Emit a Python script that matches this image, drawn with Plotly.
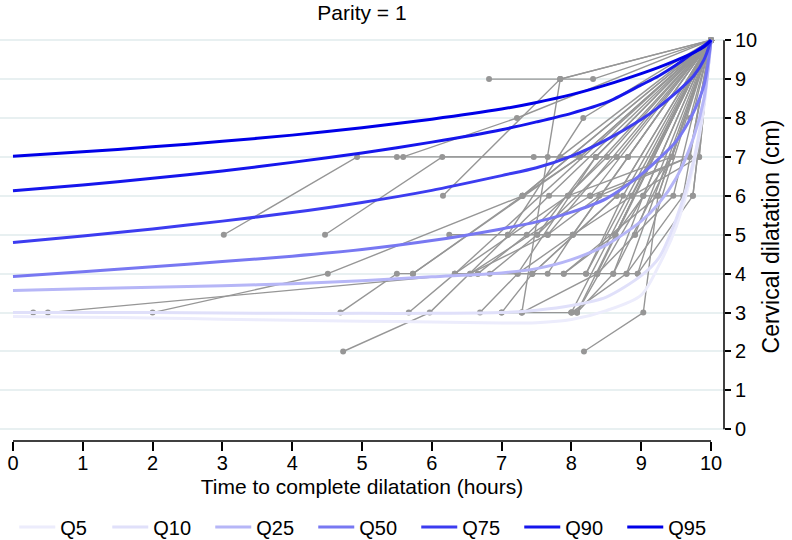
import plotly.graph_objects as go

# ---------------- data ----------------
quantile_names = ["Q5", "Q10", "Q25", "Q50", "Q75", "Q90", "Q95"]
quantile_colors = ["rgb(236,236,252)", "rgb(224,224,250)", "rgb(182,182,247)",
                   "rgb(120,120,242)", "rgb(60,60,240)", "rgb(22,22,236)", "rgb(0,0,232)"]

curve_hours = [0, 1, 2, 3, 4, 5, 6, 7, 7.5, 8, 8.5, 9, 9.25, 9.5, 9.75, 9.9, 10]
q5  = [2.90, 2.88, 2.86, 2.83, 2.80, 2.78, 2.76, 2.73, 2.74, 2.82, 3.05, 3.45, 4.20, 5.20, 6.80, 8.30, 10]
q10 = [3.00, 3.00, 3.00, 2.99, 2.98, 2.98, 2.98, 3.00, 3.06, 3.18, 3.40, 3.95, 4.40, 5.40, 6.90, 8.40, 10]
q25 = [3.57, 3.61, 3.65, 3.69, 3.74, 3.82, 3.92, 4.02, 4.13, 4.36, 4.74, 5.35, 5.80, 6.45, 7.50, 8.50, 10]
q50 = [3.93, 4.05, 4.18, 4.31, 4.45, 4.62, 4.85, 5.15, 5.33, 5.58, 5.93, 6.55, 6.95, 7.40, 8.15, 8.85, 10]
q75 = [4.80, 4.97, 5.15, 5.35, 5.57, 5.83, 6.14, 6.52, 6.72, 7.02, 7.44, 7.96, 8.28, 8.65, 9.08, 9.50, 10]
q90 = [6.13, 6.28, 6.45, 6.64, 6.86, 7.10, 7.38, 7.70, 7.90, 8.12, 8.40, 8.85, 9.08, 9.36, 9.68, 9.86, 10]
q95 = [7.02, 7.13, 7.26, 7.40, 7.56, 7.75, 7.97, 8.23, 8.40, 8.60, 8.85, 9.14, 9.30, 9.48, 9.68, 9.83, 10]
quantile_values = [q5, q10, q25, q50, q75, q90, q95]

# individual women: exam times (hours) and dilatation (cm)
patient_hours = [
    [6.82, 7.84, 8.31, 10], [7.29, 7.84, 10], [3.02, 4.93, 7.46, 8.81, 10],
    [4.47, 6.15, 7.66, 9.83, 10], [6.16, 7.84, 10], [5.50, 5.59, 7.22, 10],
    [0.29, 2.00, 4.51, 7.30, 10], [0.50, 6.55, 8.27, 10], [4.69, 5.50, 5.73, 8.12, 10],
    [4.73, 5.97, 7.68, 10], [6.25, 7.09, 8.17, 10], [5.67, 6.33, 7.95, 10],
    [6.69, 7.23, 8.35, 10], [7.00, 7.44, 8.65, 10], [8.00, 8.08, 8.60, 9.03, 10],
    [8.18, 9.03, 9.24, 10], [6.66, 7.36, 8.51, 10], [6.83, 7.51, 8.65, 10],
    [7.66, 8.02, 8.87, 10], [7.89, 8.63, 9.44, 10], [8.21, 8.74, 10],
    [8.37, 8.91, 9.46, 10], [8.79, 9.60, 10], [8.95, 9.74, 10],
    [7.66, 8.40, 9.69, 10], [9.70, 10], [7.84, 10], [8.08, 10],
    [7.00, 7.29, 8.00, 10], [6.33, 10], [7.23, 8.02, 10], [6.55, 7.66, 10],
    [5.73, 7.30, 10], [8.60, 9.44, 10], [7.51, 8.35, 10], [8.02, 8.81, 10],
    [8.87, 9.83, 10], [7.30, 8.12, 10], [8.91, 10], [8.63, 10],
    [6.33, 7.44, 8.37, 8.95, 10], [7.09, 7.66, 8.63, 10], [7.30, 8.27, 9.03, 9.74, 10],
    [7.29, 8.37, 10], [8.00, 8.79, 10], [8.08, 9.03, 10], [7.44, 8.65, 10],
    [7.89, 9.24, 10], [7.95, 9.44, 10], [8.27, 9.69, 10], [6.66, 8.21, 10],
]
patient_cm = [
    [9, 9, 9, 10], [3, 9, 10], [5, 7, 7, 7, 10],
    [5, 7, 7, 7, 10], [6, 9, 10], [7, 7, 8, 10],
    [3, 3, 4, 6, 10], [3, 4, 6, 10], [3, 4, 4, 7, 10],
    [2, 3, 6, 10], [5, 5, 8, 10], [3, 4, 6, 10],
    [3, 4, 7, 10], [3, 4, 6, 10], [3, 3, 4, 6, 10],
    [2, 3, 6, 10], [4, 5, 7, 10], [4, 5, 7, 10],
    [4, 5, 6, 10], [4, 5, 7, 10], [4, 6, 10],
    [4, 5, 6, 10], [4, 6, 10], [4, 6, 10],
    [5, 6, 7, 10], [8, 10], [7, 10], [3, 10],
    [3, 3, 3, 10], [4, 10], [4, 5, 10], [4, 5, 10],
    [4, 6, 10], [4, 7, 10], [5, 7, 10], [5, 7, 10],
    [6, 7, 10], [6, 7, 10], [5, 10], [5, 10],
    [4, 4, 4, 4, 10], [5, 5, 5, 10], [6, 6, 6, 6, 10],
    [3, 4, 10], [3, 4, 10], [3, 6, 10], [4, 6, 10],
    [4, 6, 10], [6, 7, 10], [6, 7, 10], [4, 4, 10],
]

x_ticks = list(range(0, 11))
y_ticks = list(range(0, 11))

FONT = "Liberation Sans, Arial, Helvetica, sans-serif"
GRAY = "rgb(150,150,150)"

fig = go.Figure()

for hrs, cm in zip(patient_hours, patient_cm):
    fig.add_trace(go.Scatter(
        x=hrs, y=cm, mode="lines+markers", showlegend=False, hoverinfo="skip",
        line=dict(color=GRAY, width=1.4),
        marker=dict(color=GRAY, size=6)))

for name, col, vals in zip(quantile_names, quantile_colors, quantile_values):
    fig.add_trace(go.Scatter(
        x=curve_hours, y=vals, mode="lines", name=name,
        legendwidth=42 if name == "Q5" else 52,
        line=dict(color=col, width=3, shape="spline", smoothing=0.8)))

fig.update_layout(
    width=792, height=540,
    margin=dict(l=0, r=68, t=32, b=99),
    paper_bgcolor="white", plot_bgcolor="white",
    font=dict(family=FONT, size=20, color="black"),
    title=dict(text="Parity = 1", x=0.5, xref="paper", xanchor="center",
               y=1 - 13 / 540, yref="container", yanchor="middle",
               font=dict(size=21)),
    showlegend=True,
    legend=dict(orientation="h", xref="container", yref="container",
                x=0.018, xanchor="left", y=(540 - 527) / 540, yanchor="middle",
                itemwidth=36, entrywidth=52, entrywidthmode="pixels",
                font=dict(size=20), bgcolor="rgba(0,0,0,0)"),
    xaxis=dict(range=[-0.186, 10.186], tickvals=x_ticks, ticks="outside",
               ticklen=9, tickwidth=1.5, tickcolor="black", ticklabelstandoff=-5,
               showgrid=False, zeroline=False, showline=False,
               tickfont=dict(size=20),
               title=dict(text="Time to complete dilatation (hours)",
                          font=dict(size=21), standoff=6)),
    yaxis=dict(range=[-0.30, 10.21], tickvals=y_ticks, side="right",
               ticks="outside", ticklen=6, tickwidth=1.5, tickcolor="black",
               showgrid=True, gridcolor="rgb(232,240,241)", gridwidth=2,
               zeroline=False, showline=False, tickfont=dict(size=20),
               title=dict(text="Cervical dilatation (cm)", font=dict(size=23),
                          standoff=6)),
    shapes=[
        dict(type="line", xref="x", yref="paper", x0=0, x1=10, y0=0, y1=0,
             line=dict(color="black", width=1.5)),
        dict(type="line", xref="paper", yref="y", x0=1, x1=1, y0=0, y1=10,
             line=dict(color="black", width=1.5)),
    ],
)

fig.write_html("out.html", config={"displayModeBar": False},
               post_script="document.body.style.margin='0px';")
